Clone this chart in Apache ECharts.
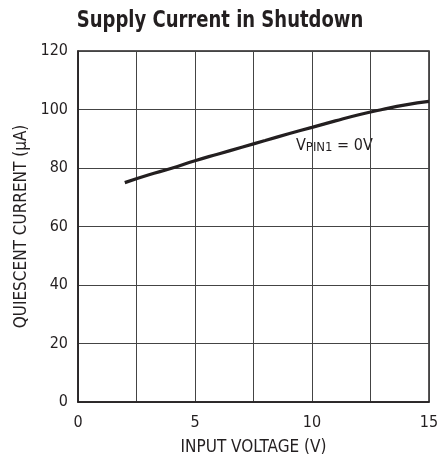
<!DOCTYPE html>
<html>
<head>
<meta charset="utf-8">
<script src="https://cdn.jsdelivr.net/npm/echarts@6/dist/echarts.min.js"></script>
<style>
  html, body { margin: 0; padding: 0; background: #fff; }
  #chart { width: 442px; height: 459px; }
</style>
</head>
<body>
<div id="chart"></div>
<script>
const FONT = '"DejaVu Sans Condensed", "Liberation Sans", Arial, sans-serif';

// input voltage (V)
const voltage = [2, 3, 4, 5, 6, 7, 8, 9, 10, 11, 12, 13, 14, 15];
// quiescent current (uA)
const current = [75, 77.6, 79.9, 82.5, 84.8, 87.1, 89.4, 91.7, 93.9, 96.1, 98.2, 100.0, 101.6, 102.8];

const xTicks = [0, 5, 10, 15];

const chart = echarts.init(document.getElementById('chart'));

chart.setOption({
  animation: false,
  backgroundColor: '#fff',
  grid: {
    left: 78,
    right: 13,
    top: 51,
    bottom: 57,
    outerBoundsMode: 'none',
  },
  xAxis: {
    type: 'value',
    min: 0,
    max: 15,
    interval: 2.5,
    name: 'INPUT VOLTAGE (V)',
    nameLocation: 'middle',
    nameGap: 37,
    nameTextStyle: { fontFamily: FONT, fontSize: 17, color: '#231f20' },
    axisLine: { show: true, lineStyle: { color: '#231f20', width: 1.5 } },
    axisTick: { show: false },
    axisLabel: {
      fontFamily: FONT,
      fontSize: 16,
      color: '#231f20',
      margin: 13,
      formatter: (v) => (xTicks.includes(v) ? String(v) : ''),
    },
    splitLine: { show: true, lineStyle: { color: '#444', width: 1 } },
  },
  yAxis: {
    type: 'value',
    min: 0,
    max: 120,
    interval: 20,
    name: 'QUIESCENT CURRENT (\u00b5A)',
    nameLocation: 'middle',
    nameGap: 45,
    nameTextStyle: { fontFamily: FONT, fontSize: 17, color: '#231f20' },
    axisLine: { show: true, lineStyle: { color: '#231f20', width: 1.5 } },
    axisTick: { show: false },
    axisLabel: {
      fontFamily: FONT,
      fontSize: 16,
      color: '#231f20',
      margin: 10,
    },
    splitLine: { show: true, lineStyle: { color: '#444', width: 1 } },
  },
  series: [
    {
      type: 'line',
      data: voltage.map((v, i) => [v, current[i]]),
      smooth: true,
      showSymbol: false,
      lineStyle: { color: '#231f20', width: 3.2 },
    },
  ],
  graphic: [
    // title, squeezed to look like the condensed bold face of the original
    {
      type: 'text',
      x: 220,
      y: 21,
      scaleX: 0.87,
      style: {
        text: 'Supply Current in Shutdown',
        fontFamily: FONT,
        fontWeight: 'bold',
        fontSize: 23,
        fill: '#231f20',
        textAlign: 'center',
        textVerticalAlign: 'middle',
      },
    },
    // right/top border of the plot frame
    {
      type: 'rect',
      shape: { x: 78, y: 51, width: 351, height: 351 },
      style: { fill: 'none', stroke: '#231f20', lineWidth: 1.5 },
      silent: true,
    },
    {
      type: 'text',
      left: 296,
      top: 137,
      style: {
        text: '{a|V}{b|PIN1}{a| = 0V}',
        fill: '#231f20',
        backgroundColor: '#fff',
        rich: {
          a: { fontFamily: FONT, fontSize: 16, color: '#231f20', verticalAlign: 'bottom' },
          b: { fontFamily: FONT, fontSize: 13, color: '#231f20', padding: [4, 0, 0, 0], verticalAlign: 'bottom' },
        },
      },
    },
  ],
});
</script>
</body>
</html>
